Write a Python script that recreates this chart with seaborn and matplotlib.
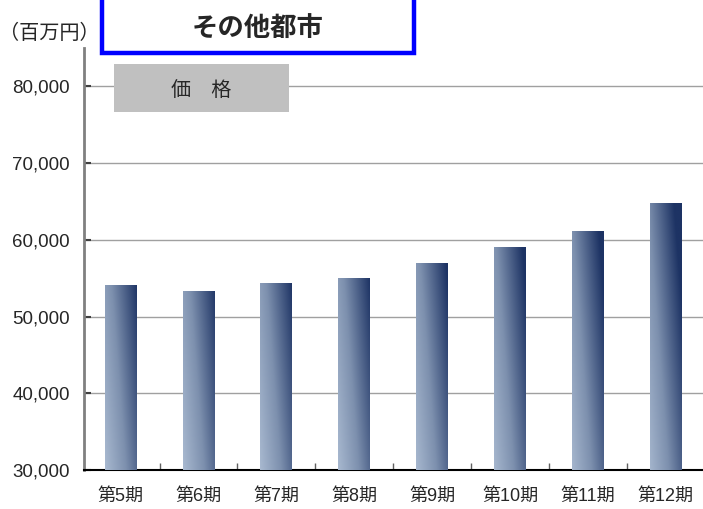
import numpy as np
import pandas as pd
import matplotlib
matplotlib.use('Agg')
import matplotlib.pyplot as plt
import seaborn as sns
from matplotlib.colors import LinearSegmentedColormap
from matplotlib.patches import Rectangle

# data
periods = ['第5期', '第6期', '第7期', '第8期', '第9期', '第10期', '第11期', '第12期']
price = [54100, 53300, 54350, 55000, 56950, 59050, 61100, 64750]
yticks = [30000, 40000, 50000, 60000, 70000, 80000]

sns.set_style('white')
plt.rcParams['font.family'] = ['Liberation Sans', 'Noto Sans CJK JP', 'DejaVu Sans']

df = pd.DataFrame({'period': periods, 'price': price})

fig = plt.figure(figsize=(7.03, 5.09), dpi=100)
ax = fig.add_axes([84 / 703, 1 - 470 / 509, 627 / 703, 422 / 509])

sns.barplot(data=df, x='period', y='price', ax=ax, width=0.41, color='#5a6f95', saturation=1)
ax.set_ylim(30000, 85000)
ax.set_xlim(-0.47, 7.58)

# diagonal gradient: light bottom-left -> navy top-right
cmap = LinearSegmentedColormap.from_list('bar', ['#b3c3d8', '#7d90ae', '#1d3364'])
for p in ax.patches:
    x0, w = p.get_x(), p.get_width()
    top = p.get_y() + p.get_height()
    u = np.linspace(0, 1, 60)[None, :]
    v = np.linspace(0, 1, 120)[:, None]
    frac = (top - 30000) / 35000
    grad = 0.6 * u + 0.4 * v * frac + 0.15 * frac
    im = ax.imshow(grad, extent=[x0, x0 + w, 30000, top], origin='lower',
                   aspect='auto', cmap=cmap, vmin=0, vmax=1, zorder=3)
    im.set_clip_path(p)
    p.set_alpha(0)

ax.set_yticks(yticks)
ax.set_yticklabels([f'{t:,}' for t in yticks], fontsize=13.5)
ax.yaxis.grid(True, color='#a0a0a0', linewidth=1)
ax.set_axisbelow(True)
ax.tick_params(axis='y', direction='in', length=5, width=1.5, color='#404040', pad=10, left=True)

ax.set_xticks(range(len(periods)))
ax.set_xticklabels(periods, fontsize=13)
ax.set_xticks(np.arange(0.5, 7.5, 1), minor=True)
ax.tick_params(axis='x', which='major', length=0, pad=13)
ax.tick_params(axis='x', which='minor', direction='in', length=5, width=1, color='#606060', bottom=True)
ax.set_xlabel('')
ax.set_ylabel('')

for s in ['top', 'right']:
    ax.spines[s].set_visible(False)
ax.spines['left'].set_color('#808080')
ax.spines['left'].set_linewidth(2)
ax.spines['bottom'].set_color('black')
ax.spines['bottom'].set_linewidth(1.5)

# unit label
fig.text(49 / 703, 1 - 33 / 509, '（百万円）', fontsize=14.5, ha='center', va='center')

# title box
fig.patches.append(Rectangle((102 / 703, 1 - 53 / 509), 312 / 703, 70 / 509,
                             transform=fig.transFigure, facecolor='white',
                             edgecolor='#0000ff', linewidth=3.2, zorder=5))
fig.text(258 / 703, 1 - 29 / 509, 'その他都市', fontsize=19, fontweight='bold',
         ha='center', va='center', zorder=6)

# gray label box
fig.patches.append(Rectangle((114 / 703, 1 - 112 / 509), 175 / 703, 48 / 509,
                             transform=fig.transFigure, facecolor='#c0c0c0',
                             edgecolor='none', zorder=5))
fig.text(201 / 703, 1 - 91 / 509, '価　格', fontsize=14.5, ha='center', va='center', zorder=6)

fig.savefig('out.png', dpi=100)
